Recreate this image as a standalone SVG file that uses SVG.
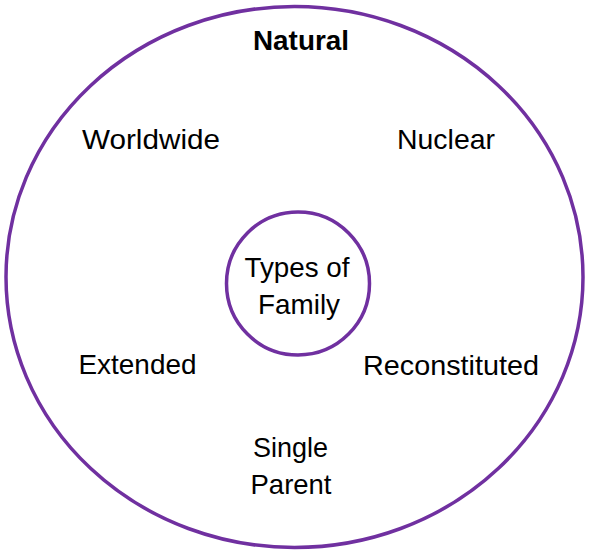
<svg xmlns="http://www.w3.org/2000/svg" width="589" height="556" viewBox="0 0 589 556">
<style>
.ring{fill:#ffffff;stroke:#7030A0;stroke-width:3.5}
.t{font-family:"Liberation Sans",Arial,sans-serif;font-size:28px;fill:#000000;text-anchor:middle}
.b{font-weight:bold}
</style>
<rect width="589" height="556" fill="#ffffff"/>
<g id="outer">
<ellipse class="ring" cx="294.5" cy="277" rx="288.5" ry="270.5"/>
<text class="t b" x="301" y="49.5" textLength="96" lengthAdjust="spacingAndGlyphs">Natural</text>
</g>
<g id="connectors"></g>
<g id="center">
<circle class="ring" cx="298" cy="283.5" r="71.5"/>
<text class="t" x="297" y="277" textLength="105" lengthAdjust="spacingAndGlyphs">Types of</text>
<text class="t" x="299" y="313.5" textLength="82" lengthAdjust="spacingAndGlyphs">Family</text>
</g>
<g id="worldwide"><text class="t" x="151" y="148.5" textLength="138" lengthAdjust="spacingAndGlyphs">Worldwide</text></g>
<g id="nuclear"><text class="t" x="446" y="149" textLength="98" lengthAdjust="spacingAndGlyphs">Nuclear</text></g>
<g id="extended"><text class="t" x="137.5" y="373.5" textLength="118" lengthAdjust="spacingAndGlyphs">Extended</text></g>
<g id="reconstituted"><text class="t" x="451" y="375" textLength="176" lengthAdjust="spacingAndGlyphs">Reconstituted</text></g>
<g id="single-parent">
<text class="t" x="290.5" y="456.5" textLength="75" lengthAdjust="spacingAndGlyphs">Single</text>
<text class="t" x="291" y="493.5" textLength="81" lengthAdjust="spacingAndGlyphs">Parent</text>
</g>
</svg>
